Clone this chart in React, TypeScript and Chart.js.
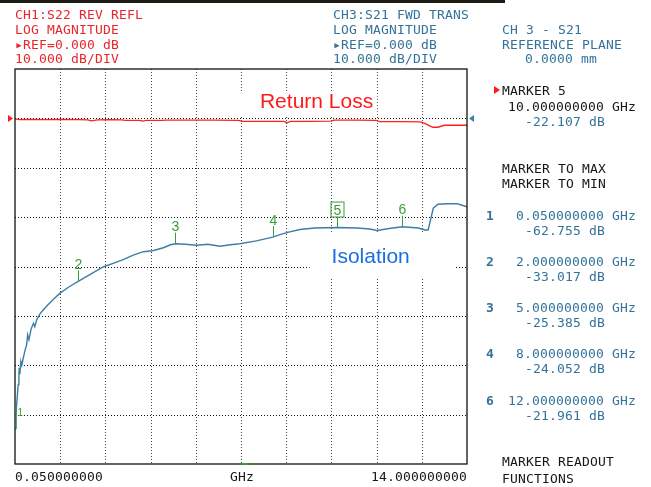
import React, { useEffect, useRef } from "react";
import { Chart, registerables } from "chart.js";

Chart.register(...registerables);

// ---------- data ----------
const X_START = 0.05;
const X_STOP = 14.0;
const X_DIVS = 10;
const Y_TOP = 10;
const Y_BOTTOM = -70;
const Y_REF = 0;
const DB_PER_DIV = 10;

const RL_FREQ = [0.05, 0.2, 0.5, 1.0, 1.5, 2.0, 2.3, 2.4, 2.6, 3.0, 3.35, 3.45, 3.9, 4.0, 4.1, 4.6, 4.7, 5.5, 6.2, 6.95, 7.05, 7.8, 8.35, 8.45, 8.55, 9.2, 9.8, 9.9, 10.6, 11.2, 11.3, 12.0, 12.55, 12.7, 12.85, 12.95, 13.1, 13.3, 14.0];
const RL_DB = [-0.1, -0.25, -0.2, -0.25, -0.2, -0.25, -0.3, -0.5, -0.3, -0.25, -0.3, -0.4, -0.4, -0.55, -0.4, -0.4, -0.35, -0.35, -0.35, -0.4, -0.6, -0.6, -0.6, -0.9, -0.6, -0.6, -0.55, -0.35, -0.35, -0.4, -0.65, -0.65, -0.7, -1.0, -1.5, -1.8, -1.8, -1.4, -1.4];

const ISO_FREQ = [0.05, 0.08, 0.1, 0.13, 0.15, 0.17, 0.18, 0.2, 0.23, 0.26, 0.31, 0.36, 0.41, 0.44, 0.48, 0.55, 0.62, 0.66, 0.72, 0.82, 0.95, 1.03, 1.23, 1.44, 1.7, 2.0, 2.4, 2.77, 3.1, 3.39, 3.7, 4.01, 4.3, 4.63, 4.85, 5.0, 5.3, 5.66, 6.0, 6.38, 6.7, 6.99, 7.5, 8.0, 8.3, 8.53, 8.84, 9.3, 10.0, 10.6, 11.0, 11.22, 11.6, 12.0, 12.5, 12.7, 12.8, 12.96, 13.1, 13.4, 13.7, 14.0];
const ISO_DB = [-62.8, -60.5, -58.0, -55.5, -53.9, -52.0, -50.5, -51.8, -49.2, -50.0, -48.4, -47.0, -45.8, -43.8, -44.8, -42.6, -41.5, -42.2, -40.8, -39.6, -38.6, -38.0, -36.7, -35.4, -34.2, -33.0, -31.5, -30.1, -29.3, -28.6, -27.7, -27.0, -26.8, -26.2, -25.6, -25.4, -25.5, -25.7, -25.5, -25.9, -25.6, -25.4, -24.8, -24.05, -23.4, -23.0, -22.5, -22.2, -22.1, -22.2, -22.4, -22.7, -22.3, -21.96, -22.2, -22.6, -22.6, -18.2, -17.4, -17.3, -17.3, -17.9];

const MARKER_FREQ = [0.05, 2.0, 5.0, 8.0, 10.0, 12.0];
const MARKER_DB = [-62.755, -33.017, -25.385, -24.052, -22.107, -21.961];
const MARKER_LABELS = ["1", "2", "3", "4", "5", "6"];
const ACTIVE_MARKER = 4;

const STIM_INDICATOR = [7.05, 7.25];

// annotation anchors (data coordinates) and their white backing boxes
const RL_LABEL = { text: "Return Loss", f: 7.61, db: 2.05, padL: 22, padR: 4, padT: 16, padB: 7 };
const ISO_LABEL = { text: "Isolation", f: 9.82, db: -29.3, padL: 22, padR: 46, padT: 31, padB: 14 };

// ---------- colours ----------
const RED = "#ff1f1f";
const RED_TXT = "#e8262c";
const BLUE_TXT = "#33739a";
const ISO_COL = "#3d7ea6";
const GREEN = "#3a9c3a";
const BLACK_TXT = "#161616";

const vnaPlugin = {
  id: "vnaDecor",
  beforeDatasetsDraw(chart: any) {
    const { ctx, chartArea, scales } = chart;
    const { left, right, top, bottom } = chartArea;
    const x = scales.x;
    const y = scales.y;
    ctx.save();
    ctx.lineWidth = 1;
    ctx.setLineDash([1, 2]);
    ctx.strokeStyle = "#444";
    for (let i = 1; i < X_DIVS; i++) {
      const px = Math.round(x.getPixelForValue(X_START + (i * (X_STOP - X_START)) / X_DIVS)) + 0.5;
      ctx.beginPath();
      ctx.moveTo(px, top);
      ctx.lineTo(px, bottom);
      ctx.stroke();
    }
    ctx.strokeStyle = "#111";
    for (let v = Y_BOTTOM + DB_PER_DIV; v < Y_TOP; v += DB_PER_DIV) {
      const py = Math.round(y.getPixelForValue(v)) + 0.5;
      ctx.beginPath();
      ctx.moveTo(left, py);
      ctx.lineTo(right, py);
      ctx.stroke();
    }
    ctx.setLineDash([]);
    // text annotations on white backing boxes
    ctx.font = "21px 'Liberation Sans', Arial, sans-serif";
    ctx.textBaseline = "alphabetic";
    const drawLabel = (lab: any, color: string) => {
      const tx = x.getPixelForValue(lab.f);
      const ty = y.getPixelForValue(lab.db);
      const w = ctx.measureText(lab.text).width;
      ctx.fillStyle = "#fff";
      ctx.fillRect(tx - lab.padL, ty - lab.padT, w + lab.padL + lab.padR, lab.padT + lab.padB);
      ctx.fillStyle = color;
      ctx.fillText(lab.text, tx, ty);
    };
    drawLabel(RL_LABEL, "#ff1a1a");
    drawLabel(ISO_LABEL, "#1a6fe0");
    ctx.restore();
  },
  afterDatasetsDraw(chart: any) {
    const { ctx, chartArea, scales } = chart;
    const { left, right, top, bottom } = chartArea;
    const x = scales.x;
    const y = scales.y;
    ctx.save();
    // frame
    ctx.strokeStyle = "#111";
    ctx.lineWidth = 1.3;
    ctx.strokeRect(left, top, right - left, bottom - top);
    // reference triangles
    const ry = y.getPixelForValue(Y_REF);
    ctx.fillStyle = "#ff1a1a";
    ctx.beginPath();
    ctx.moveTo(left - 7, ry - 3.5);
    ctx.lineTo(left - 2, ry);
    ctx.lineTo(left - 7, ry + 3.5);
    ctx.closePath();
    ctx.fill();
    ctx.fillStyle = "#3f7fa8";
    ctx.beginPath();
    ctx.moveTo(right + 7, ry - 3.5);
    ctx.lineTo(right + 2, ry);
    ctx.lineTo(right + 7, ry + 3.5);
    ctx.closePath();
    ctx.fill();
    // markers
    ctx.strokeStyle = GREEN;
    ctx.fillStyle = GREEN;
    ctx.lineWidth = 1;
    ctx.textAlign = "center";
    ctx.textBaseline = "alphabetic";
    MARKER_FREQ.forEach((f, i) => {
      const px = Math.round(x.getPixelForValue(f)) + 0.5;
      const py = y.getPixelForValue(MARKER_DB[i]);
      if (i === 0) {
        ctx.beginPath();
        ctx.moveTo(px + 0.5, py);
        ctx.lineTo(px + 0.5, py - 22);
        ctx.stroke();
        ctx.font = "10px 'Liberation Sans', Arial, sans-serif";
        ctx.textAlign = "left";
        ctx.fillText(MARKER_LABELS[i], px + 2, py - 12);
        ctx.textAlign = "center";
        return;
      }
      const tick = i === ACTIVE_MARKER ? 10.5 : 11;
      ctx.beginPath();
      ctx.moveTo(px, py);
      ctx.lineTo(px, py - tick);
      ctx.stroke();
      ctx.font = "14px 'Liberation Sans', Arial, sans-serif";
      if (i === ACTIVE_MARKER) {
        ctx.strokeRect(px - 6.5, py - tick - 15, 13, 15);
        ctx.fillText(MARKER_LABELS[i], px, py - tick - 2.5);
      } else {
        ctx.fillText(MARKER_LABELS[i], px, py - tick - 1.5);
      }
    });
    // stimulus indicator on bottom edge
    ctx.strokeStyle = GREEN;
    ctx.lineWidth = 2;
    ctx.beginPath();
    ctx.moveTo(x.getPixelForValue(STIM_INDICATOR[0]), bottom);
    ctx.lineTo(x.getPixelForValue(STIM_INDICATOR[1]), bottom);
    ctx.stroke();
    ctx.restore();
  },
};

const MONO = "'DejaVu Sans Mono', 'Liberation Mono', monospace";

function T(props: { x?: number; right?: number; y: number; color: string; bold?: boolean; children: any }) {
  const style: any = {
    position: "absolute",
    top: props.y - 1.5,
    fontFamily: MONO,
    fontSize: 13,
    lineHeight: "13px",
    whiteSpace: "pre",
    letterSpacing: "0.17px",
    color: props.color,
    fontWeight: props.bold ? "bold" : "normal",
  };
  if (props.right !== undefined) style.right = props.right;
  else style.left = props.x;
  return <div style={style}>{props.children}</div>;
}

const fmtF = (f: number) => f.toFixed(9) + " GHz";
const fmtD = (d: number) => d.toFixed(3) + " dB";

export default function App() {
  const canvasRef = useRef<HTMLCanvasElement | null>(null);

  useEffect(() => {
    const canvas = canvasRef.current;
    if (!canvas) return;
    const chart = new Chart(canvas, {
      type: "line",
      data: {
        datasets: [
          {
            label: "Return Loss",
            data: RL_FREQ.map((f, i) => ({ x: f, y: RL_DB[i] })),
            borderColor: RED,
            borderWidth: 1.4,
            pointRadius: 0,
            tension: 0,
            fill: false,
          },
          {
            label: "Isolation",
            data: ISO_FREQ.map((f, i) => ({ x: f, y: ISO_DB[i] })),
            borderColor: ISO_COL,
            borderWidth: 1.4,
            pointRadius: 0,
            tension: 0,
            fill: false,
          },
        ],
      },
      options: {
        animation: false,
        responsive: false,
        maintainAspectRatio: false,
        devicePixelRatio: 1,
        layout: { padding: { left: 15, top: 69, right: 184, bottom: 23 } },
        plugins: { legend: { display: false }, tooltip: { enabled: false }, title: { display: false } },
        scales: {
          x: { type: "linear", min: X_START, max: X_STOP, display: false },
          y: { type: "linear", min: Y_BOTTOM, max: Y_TOP, display: false },
        },
      },
      plugins: [vnaPlugin],
    } as any);
    return () => chart.destroy();
  }, []);

  const listIdx = [0, 1, 2, 3, 5];
  const hy = [9.8, 24.4, 39, 53.6];

  return (
    <div style={{ position: "absolute", left: 0, top: 0, width: 651, height: 487, background: "#fff", overflow: "hidden" }}>
      <div style={{ position: "absolute", left: 0, top: 0, width: 505, height: 3, background: "#1c1c14" }} />
      <canvas ref={canvasRef} width={651} height={487} style={{ position: "absolute", left: 0, top: 0, width: 651, height: 487 }} />

      <T x={15} y={hy[0]} color={RED_TXT}>CH1:S22 REV REFL</T>
      <T x={15} y={hy[1]} color={RED_TXT}>LOG MAGNITUDE</T>
      <T x={15} y={hy[2]} color={RED_TXT}>{"\u25B8REF=" + Y_REF.toFixed(3) + " dB"}</T>
      <T x={15} y={hy[3]} color={RED_TXT}>{DB_PER_DIV.toFixed(3) + " dB/DIV"}</T>

      <T x={333} y={hy[0]} color={BLUE_TXT}>CH3:S21 FWD TRANS</T>
      <T x={333} y={hy[1]} color={BLUE_TXT}>LOG MAGNITUDE</T>
      <T x={333} y={hy[2]} color={BLUE_TXT}>{"\u25B8REF=" + Y_REF.toFixed(3) + " dB"}</T>
      <T x={333} y={hy[3]} color={BLUE_TXT}>{DB_PER_DIV.toFixed(3) + " dB/DIV"}</T>

      <T x={502} y={hy[1]} color={BLUE_TXT}>CH 3 - S21</T>
      <T x={502} y={hy[2]} color={BLUE_TXT}>REFERENCE PLANE</T>
      <T x={525} y={hy[3]} color={BLUE_TXT}>0.0000 mm</T>

      <div style={{ position: "absolute", left: 494, top: 86, width: 0, height: 0, borderTop: "4px solid transparent", borderBottom: "4px solid transparent", borderLeft: "6px solid #ff1a1a" }} />
      <T x={502} y={85.7} color={BLACK_TXT}>{"MARKER " + MARKER_LABELS[ACTIVE_MARKER]}</T>
      <T right={15} y={101.7} color={BLACK_TXT}>{fmtF(MARKER_FREQ[ACTIVE_MARKER])}</T>
      <T x={525} y={116.7} color={BLUE_TXT}>{fmtD(MARKER_DB[ACTIVE_MARKER])}</T>

      <T x={502} y={163} color={BLACK_TXT}>MARKER TO MAX</T>
      <T x={502} y={178} color={BLACK_TXT}>MARKER TO MIN</T>

      {listIdx.map((mi, k) => (
        <React.Fragment key={mi}>
          <T x={486} y={210 + k * 46.25} color={BLUE_TXT} bold>{MARKER_LABELS[mi]}</T>
          <T right={15} y={210 + k * 46.25} color={BLUE_TXT}>{fmtF(MARKER_FREQ[mi])}</T>
          <T x={525} y={225 + k * 46.25} color={BLUE_TXT}>{fmtD(MARKER_DB[mi])}</T>
        </React.Fragment>
      ))}

      <T x={502} y={456.7} color={BLACK_TXT}>MARKER READOUT</T>
      <T x={502} y={473} color={BLACK_TXT}>FUNCTIONS</T>

      <T x={15} y={471.7} color={BLACK_TXT}>{X_START.toFixed(9)}</T>
      <T x={230} y={471.7} color={BLACK_TXT}>GHz</T>
      <T x={371} y={471.7} color={BLACK_TXT}>{X_STOP.toFixed(9)}</T>
    </div>
  );
}
